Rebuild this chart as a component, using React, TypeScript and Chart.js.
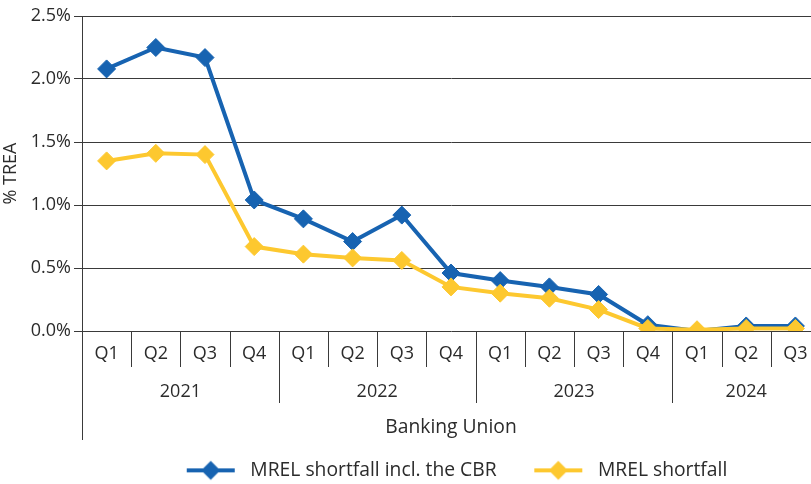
import React, { useEffect, useRef } from 'react';
import { Chart, registerables } from 'chart.js';

Chart.register(...registerables);

// ---- data ----
const quarters = ['Q1', 'Q2', 'Q3', 'Q4', 'Q1', 'Q2', 'Q3', 'Q4', 'Q1', 'Q2', 'Q3', 'Q4', 'Q1', 'Q2', 'Q3'];
const years = ['2021', '2022', '2023', '2024'];
const quartersPerYear = [4, 4, 4, 3];
const mrelInclCbr = [2.08, 2.25, 2.17, 1.04, 0.89, 0.71, 0.92, 0.46, 0.4, 0.35, 0.29, 0.05, 0.0, 0.04, 0.04];
const mrelShortfall = [1.35, 1.41, 1.4, 0.67, 0.61, 0.58, 0.56, 0.35, 0.3, 0.26, 0.17, 0.02, 0.01, 0.02, 0.02];
const yTicks = [0, 0.5, 1, 1.5, 2, 2.5];
const seriesLabels = ['MREL shortfall incl. the CBR', 'MREL shortfall'];
const axisTitleX = 'Banking Union';
const axisTitleY = '% TREA';

// ---- styles ----
const FONT = "'Open Sans', 'Noto Sans', sans-serif";
const TEXT = '#2b2b2b';
const AXIS = '#3a3a3a';
const BLUE = '#1763b1';
const YELLOW = '#fdc82f';
const COLORS = [BLUE, YELLOW];
const BIG = 19.3;
const IMG_LEFT = 12;

function makeLegendImage(color: string): HTMLCanvasElement {
  const c = document.createElement('canvas');
  c.width = IMG_LEFT + 48 + 6;
  c.height = 22;
  const g = c.getContext('2d')!;
  g.strokeStyle = color;
  g.fillStyle = color;
  g.lineWidth = 4;
  g.beginPath();
  g.moveTo(IMG_LEFT, 11);
  g.lineTo(IMG_LEFT + 48, 11);
  g.stroke();
  const cx = IMG_LEFT + 24, cy = 11, r = 9.5;
  g.beginPath();
  g.moveTo(cx - r, cy);
  g.lineTo(cx, cy - r);
  g.lineTo(cx + r, cy);
  g.lineTo(cx, cy + r);
  g.closePath();
  g.fill();
  return c;
}

const groupAxisPlugin = {
  id: 'groupAxis',
  afterDraw(chart: any) {
    const { ctx, chartArea, scales } = chart;
    const x = scales.x;
    const bottom = chartArea.bottom;
    const half = (x.getPixelForValue(1) - x.getPixelForValue(0)) / 2;
    const yearStarts: number[] = [];
    let acc = 0;
    quartersPerYear.forEach((n) => { yearStarts.push(acc); acc += n; });
    ctx.save();
    ctx.strokeStyle = AXIS;
    ctx.lineWidth = 1;
    const vline = (px: number, len: number) => {
      const xx = Math.round(px) + 0.5;
      ctx.beginPath();
      ctx.moveTo(xx, bottom);
      ctx.lineTo(xx, bottom + len);
      ctx.stroke();
    };
    for (let i = 1; i <= quarters.length; i++) {
      const px = x.getPixelForValue(i - 1) + half;
      const isYear = yearStarts.includes(i) || i === quarters.length;
      vline(px, isYear ? 72 : 36);
    }
    // left axis extension
    vline(chartArea.left - 0.5, 109);
    // year labels
    ctx.fillStyle = TEXT;
    ctx.font = `18px ${FONT}`;
    ctx.textAlign = 'center';
    ctx.textBaseline = 'middle';
    years.forEach((yr, k) => {
      const s = yearStarts[k];
      const e = s + quartersPerYear[k] - 1;
      const cx = (x.getPixelForValue(s) + x.getPixelForValue(e)) / 2;
      ctx.fillText(yr, cx, bottom + 61);
    });
    ctx.restore();
  },
};

export default function App() {
  const ref = useRef<HTMLCanvasElement>(null);
  useEffect(() => {
    if (!ref.current) return;
    const images = COLORS.map(makeLegendImage);
    const chart = new Chart(ref.current, {
      type: 'line',
      data: {
        labels: quarters,
        datasets: [mrelInclCbr, mrelShortfall].map((d, i) => ({
          label: seriesLabels[i],
          data: d,
          borderColor: COLORS[i],
          backgroundColor: COLORS[i],
          pointBackgroundColor: COLORS[i],
          pointBorderColor: COLORS[i],
          borderWidth: 4,
          pointStyle: 'rectRot',
          pointRadius: 9,
          pointBorderWidth: 1,
          pointHoverRadius: 9,
          tension: 0,
          order: i === 0 ? 1 : 0,
        })),
      },
      options: {
        animation: false,
        responsive: false,
        maintainAspectRatio: false,
        layout: { padding: { top: 16, right: 7, bottom: 0, left: 0 } },
        plugins: {
          tooltip: { enabled: false },
          legend: {
            position: 'bottom',
            fullSize: false,
            labels: {
              usePointStyle: true,
              pointStyleWidth: IMG_LEFT + 54,
              boxHeight: BIG,
              padding: 25.7,
              color: TEXT,
              font: { family: FONT, size: BIG },
              generateLabels: (c: any) =>
                c.data.datasets.map((ds: any, i: number) => ({
                  text: ds.label,
                  pointStyle: images[i],
                  fillStyle: COLORS[i],
                  strokeStyle: COLORS[i],
                  fontColor: TEXT,
                  lineWidth: 0,
                  hidden: false,
                  datasetIndex: i,
                })),
            },
          },
        },
        scales: {
          x: {
            type: 'category',
            offset: true,
            grid: { display: false, drawTicks: false },
            border: { display: false },
            ticks: {
              color: TEXT,
              font: { family: FONT, size: 18 },
              padding: 12,
              maxRotation: 0,
              autoSkip: false,
            },
            title: {
              display: true,
              text: axisTitleX,
              color: TEXT,
              font: { family: FONT, size: BIG },
              padding: { top: 0, bottom: -3.6 },
            },
            afterFit: (s: any) => { s.height = 104; },
          },
          y: {
            min: 0,
            max: 2.5,
            afterBuildTicks: (s: any) => { s.ticks = yTicks.map((v) => ({ value: v })); },
            ticks: {
              color: TEXT,
              font: { family: FONT, size: 18 },
              padding: 3,
              callback: (v: any) => Number(v).toFixed(1) + '%',
            },
            grid: { color: AXIS, lineWidth: 1, drawTicks: true, tickLength: 8, tickColor: AXIS },
            border: { display: true, color: AXIS, width: 1 },
            title: {
              display: true,
              text: axisTitleY,
              color: TEXT,
              font: { family: FONT, size: 18 },
              padding: { top: 0, bottom: 0 },
            },
            afterFit: (s: any) => { s.width = 82; },
          },
        },
      },
      plugins: [groupAxisPlugin],
    });
    return () => chart.destroy();
  }, []);

  return (
    <div style={{ position: 'absolute', left: 0, top: 0, width: 811, height: 484, overflow: 'hidden', background: '#fff' }}>
      <canvas ref={ref} width={830} height={490} />
    </div>
  );
}
